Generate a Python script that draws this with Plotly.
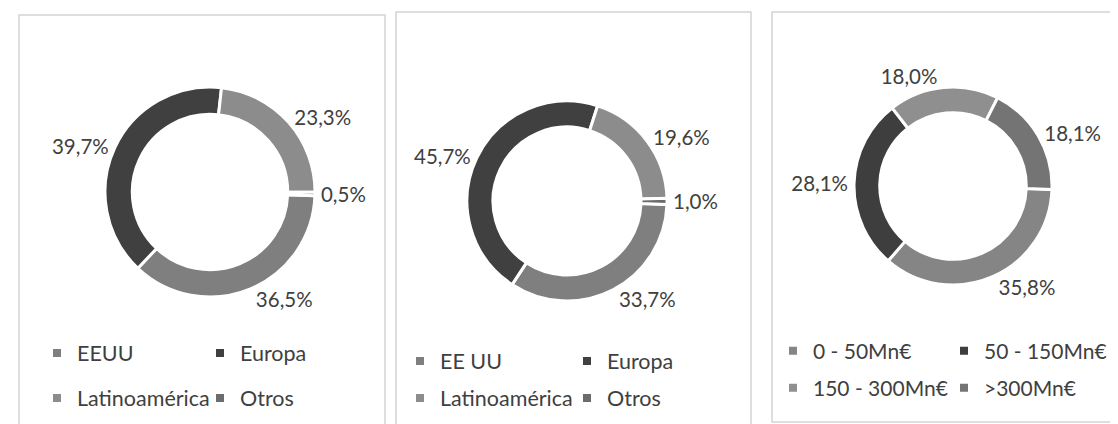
import plotly.graph_objects as go

W, H = 1118, 424
FONT = "Lato"
TXT = "#404040"

# ---- data ----
region_labels_a = ["EEUU", "Europa", "Latinoamérica", "Otros"]
region_values_a = [36.5, 39.7, 23.3, 0.5]
region_colors_a = ["#7f7f7f", "#404040", "#8c8c8c", "#6c6c6c"]

region_labels_b = ["EE UU", "Europa", "Latinoamérica", "Otros"]
region_values_b = [33.7, 45.7, 19.6, 1.0]
region_colors_b = ["#7f7f7f", "#404040", "#8c8c8c", "#6c6c6c"]

size_labels = ["0 - 50Mn€", "50 - 150Mn€", "150 - 300Mn€", ">300Mn€"]
size_values = [35.8, 28.1, 18.0, 18.1]
size_colors = ["#858585", "#3e3e3e", "#8f8f8f", "#747474"]

charts = [
    dict(labels=region_labels_a, values=region_values_a, colors=region_colors_a,
         cx=202, cy=184, r=105, box=(11, 7, 377, 421),
         leg_x=29, rows_y=(345, 390), spacing=163, leg_font=21.5),
    dict(labels=region_labels_b, values=region_values_b, colors=region_colors_b,
         cx=559, cy=193, r=100, box=(388, 4, 743, 418),
         leg_x=392, rows_y=(353, 390), spacing=167, leg_font=21.5),
    dict(labels=size_labels, values=size_values, colors=size_colors,
         cx=945, cy=178, r=99, box=(764, 4, 1112, 414),
         leg_x=765, rows_y=(343, 380), spacing=171, leg_font=21),
]


def domain(cx, cy, r):
    return dict(x=[(cx - r) / W, (cx + r) / W], y=[1 - (cy + r) / H, 1 - (cy - r) / H])


fig = go.Figure()
shapes = []
legends = {}
leg_idx = 0
for ch in charts:
    fig.add_trace(go.Pie(
        labels=ch["labels"], values=ch["values"], sort=False,
        direction="clockwise", rotation=92, hole=0.74,
        domain=domain(ch["cx"], ch["cy"], ch["r"]),
        marker=dict(colors=ch["colors"], line=dict(color="white", width=3)),
        textposition="outside", texttemplate="%{value:.1f}%",
        textfont=dict(family=FONT, size=20.5, color=TXT),
        showlegend=False, hoverinfo="label+percent",
    ))
    x0, y0, x1, y1 = ch["box"]
    shapes.append(dict(type="rect", xref="paper", yref="paper",
                       x0=x0 / W, x1=x1 / W, y0=1 - y1 / H, y1=1 - y0 / H,
                       line=dict(color="#d4d4d4", width=1.5), layer="below"))
    for row in range(2):
        leg_idx += 1
        name = "legend" if leg_idx == 1 else f"legend{leg_idx}"
        for k in range(2):
            i = row * 2 + k
            fig.add_trace(go.Scatter(
                x=[None], y=[None], mode="markers", name=ch["labels"][i],
                marker=dict(symbol="square", size=8, color=ch["colors"][i]),
                legend=name, showlegend=True, hoverinfo="skip"))
        legends[name] = dict(
            orientation="h", x=ch["leg_x"] / W, xanchor="left",
            y=1 - ch["rows_y"][row] / H, yanchor="middle",
            entrywidth=ch["spacing"] - 45, entrywidthmode="pixels",
            font=dict(family=FONT, size=ch["leg_font"], color=TXT),
            bgcolor="rgba(0,0,0,0)", itemclick=False, itemdoubleclick=False)

fig.update_layout(
    width=W, height=H, margin=dict(l=0, r=0, t=0, b=0),
    paper_bgcolor="white", plot_bgcolor="white",
    separators=",.", shapes=shapes,
    xaxis=dict(visible=False), yaxis=dict(visible=False),
    font=dict(family=FONT, color=TXT),
    **legends,
)
fig.write_html("out.html")
